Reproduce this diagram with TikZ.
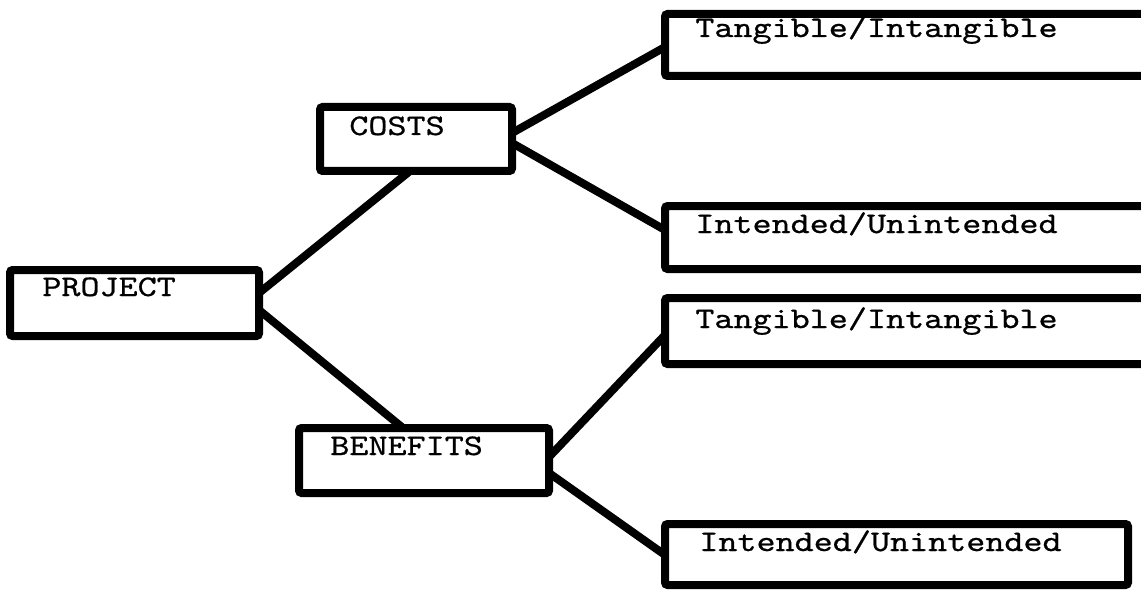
\documentclass[tikz,border=0pt]{standalone}
\usepackage{fontspec}
\newfontfamily\boxfont[Extension=.otf, FakeBold=0.7, FakeStretch=1.216]{lmmono10-regular}
\usetikzlibrary{calc,fit}
\tikzset{
  frame/.style={draw, line width=8*0.02cm, rectangle, inner sep=0pt, outer sep=0pt,
    rounded corners=1.5pt, fill=white},
  link/.style={line width=8*0.02cm, line cap=round},
  caption/.style={inner sep=0pt, anchor=base west, font=\boxfont\fontsize{17}{19}\selectfont}
}
\begin{document}
\begin{tikzpicture}[x=0.02cm, y=-0.02cm]
\clip (0,0) rectangle (1141,591);
\fill[white] (0,0) rectangle (1141,591);

% boxes, given by opposite corners (pixel units, y downwards)
\node[frame, fit={(10,270) (259,336)}] (proj) {};
\node[frame, fit={(320,107) (512,171)}] (costs) {};
\node[frame, fit={(299,428) (549,493)}] (bens) {};
\node[frame, fit={(665,14) (1160,76)}] (ct) {};
\node[frame, fit={(665,206) (1160,269)}] (ci) {};
\node[frame, fit={(665,298) (1160,364)}] (bt) {};
\node[frame, fit={(665,524) (1128,585)}] (bi) {};

% labels
\node[caption] (projtxt) at (42,296) {PROJECT};
\node[caption] (coststxt) at (349,135) {COSTS};
\node[caption] (benstxt) at (330,455) {BENEFITS};
\node[caption] (cttxt) at (695,37) {Tangible/Intangible};
\node[caption] (citxt) at (695,233) {Intended/Unintended};
\node[caption] (bttxt) at (695,328) {Tangible/Intangible};
\node[caption] (bitxt) at (699,551) {Intended/Unintended};

% connectors
\draw[link] ($(proj.east)+(0,-10)$) -- ($(costs.south)+(-6,0)$);
\draw[link] ($(proj.east)+(0,7)$) -- ($(bens.north)+(-21,0)$);
\draw[link] ($(costs.east)+(0,-6)$) -- ($(ct.west)+(0,2)$);
\draw[link] ($(costs.east)+(0,4)$) -- ($(ci.west)+(0,-7.5)$);
\draw[link] ($(bens.east)+(0,-3.5)$) -- ($(bt.west)+(0,4)$);
\draw[link] ($(bens.east)+(0,12.5)$) -- ($(bi.west)+(0,0.5)$);
\end{tikzpicture}
\end{document}
